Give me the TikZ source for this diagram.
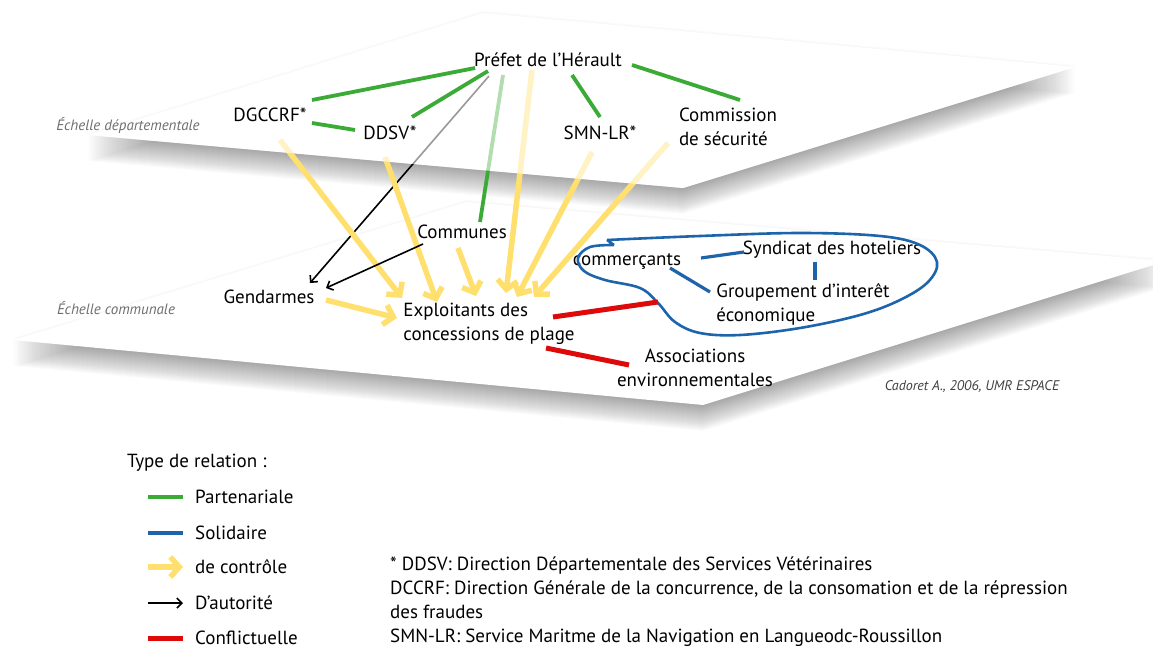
\documentclass[tikz,border=0pt]{standalone}
\usepackage{fontspec}
\setmainfont{PT Sans}
\usepackage{tikz}
\usetikzlibrary{positioning, calc, arrows.meta}

\definecolor{vert}{RGB}{60,170,55}
\definecolor{bleu}{RGB}{30,100,170}
\definecolor{jaune}{RGB}{255,224,110}
\definecolor{rouge}{RGB}{222,10,10}
\definecolor{grisTxt}{RGB}{110,110,110}

\pgfdeclarelayer{planes}
\pgfdeclarelayer{cross}
\pgfdeclarelayer{veil}
\pgfsetlayers{planes,cross,veil,main}

\begin{document}
\begin{tikzpicture}[x=1pt, y=-1pt,
    font=\fontsize{19}{24}\selectfont,
    every node/.style={inner sep=2pt},
    partner/.style={draw=vert, line width=3.8pt},
    solidaire/.style={draw=bleu, line width=3.2pt},
    controle/.style={draw=jaune, line width=5.5pt, -{Straight Barb[length=9pt,width=20pt]}},
    autorite/.style={draw=black, line width=1.6pt, -{Straight Barb[length=5pt,width=10pt]}},
    conflit/.style={draw=rouge, line width=5pt},
    echelle/.style={text=grisTxt, font=\fontsize{15}{18}\selectfont\itshape}
  ]
  \useasboundingbox (0,0) rectangle (1153,648);

  % the two planes with their soft shadows
  \begin{pgfonlayer}{planes}
    \foreach \d in {-2,...,26} {
      \fill[black, opacity=0.014] (13,340+\d) -- (466,202+\d) -- (1166,261+\d) -- (703,405+\d) -- cycle;
    }
    \fill[white] (13,340) -- (466,202) -- (1166,261) -- (703,405) -- cycle;
    \foreach \d in {-2,...,26} {
      \fill[black, opacity=0.014] (88,135+\d) -- (483,13+\d) -- (1075,67+\d) -- (683,188+\d) -- cycle;
    }
    \fill[white] (88,135) -- (483,13) -- (1075,67) -- (683,188) -- cycle;
  \end{pgfonlayer}
  \begin{pgfonlayer}{veil}
    \fill[white, opacity=0.6] (88,135) -- (483,13) -- (1075,67) -- (683,188) -- cycle;
  \end{pgfonlayer}

  % departmental level
  \node (prefet) at (548,60) {Préfet de l'Hérault};
  \node (dgccrf) at (270,115) {DGCCRF*};
  \node (ddsv) at (390,133) {DDSV*};
  \node (smn) at (600,133) {SMN-LR*};
  \node[align=left] (commission) at (728,127) {Commission\\de sécurité};
  \node[echelle] (echdep) at (128,125) {Échelle départementale};

  % communal level
  \node (communes) at (462,232) {Communes};
  \node (gendarmes) at (269,297) {Gendarmes};
  \node[align=left] (exploit) at (489,324) {Exploitants des\\concessions de plage};
  \node (commerc) at (627,262) {commerçants};
  \node (syndicat) at (832,250) {Syndicat des hoteliers};
  \node[align=left] (groupement) at (803,304) {Groupement d'interêt\\économique};
  \node[align=center] (assoc) at (695,368) {Associations\\environnementales};
  \node[echelle] (echcom) at (116,308) {Échelle communale};
  \node[echelle, text=black!75, font=\fontsize{14}{17}\selectfont\itshape] (credit) at (972,387) {Cadoret A., 2006, UMR ESPACE};

  % links going from one level to the other
  \begin{pgfonlayer}{cross}
    \draw[partner] ($(prefet)+(-45,15)$) -- ($(communes)+(18,-10)$);
    \draw[autorite] ($(prefet)+(-59,16)$) -- ($(gendarmes)+(41,-14)$);
    \draw[controle] ($(dgccrf)+(10,25)$) -- ($(exploit)+(-87,-26)$);
    \draw[controle] ($(ddsv)+(-5,24)$) -- ($(exploit)+(-52,-22)$);
    \draw[controle] ($(prefet)+(-16,10)$) -- ($(exploit)+(17,-31)$);
    \draw[controle] ($(smn)+(-8,19)$) -- ($(exploit)+(28,-27)$);
    \draw[controle] ($(commission)+(-60,16)$) -- ($(exploit)+(45,-27)$);
  \end{pgfonlayer}

  % partnerships at the top
  \draw[partner] ($(prefet)+(-73,8)$) -- ($(dgccrf)+(42,-15)$);
  \draw[partner] ($(prefet)+(-60,11)$) -- ($(ddsv)+(22,-16)$);
  \draw[partner] ($(dgccrf)+(42,8)$) -- ($(ddsv)+(-35,-3)$);
  \draw[partner] ($(prefet)+(24,15)$) -- ($(smn)+(0,-16)$);
  \draw[partner] ($(prefet)+(84,5)$) -- ($(commission)+(12,-27)$);

  % links inside the commune
  \draw[controle] ($(communes)+(-4,16)$) -- ($(exploit)+(-13,-28)$);
  \draw[controle] ($(gendarmes)+(57,3)$) -- ($(exploit)+(-92,-6)$);
  \draw[autorite] ($(communes)+(-39,12)$) -- ($(gendarmes)+(57,-9)$);
  \draw[solidaire] ($(commerc)+(74,-4)$) -- ($(syndicat)+(-88,2)$);
  \draw[solidaire] ($(commerc)+(43,6)$) -- ($(groupement)+(-93,-12)$);
  \draw[solidaire] ($(syndicat)+(-17,12)$) -- ($(groupement)+(12,-24)$);

  % the group of local businesses
  \draw[bleu, line width=2.6pt] (614,245) -- (607,240)
    plot[smooth, tension=0.6] coordinates {(607,240) (700,236) (800,233) (880,236) (920,245)
      (937,262) (928,282) (900,300) (860,315) (800,328) (740,335) (700,333) (675,322)
      (658,303) (640,288) (605,280) (584,271) (578,258) (590,247) (614,245)};
  \coordinate (blobhit) at (658,302);

  \draw[conflit] ($(exploit)+(64,-7)$) -- (blobhit);
  \draw[conflit] ($(exploit)+(57,24)$) -- ($(assoc)+(-66,-3)$);

  % legend
  \node[anchor=west] (lgtitle) at (125,463) {Type de relation :};
  \foreach \y/\sty/\nm/\txt in {497/partner/lgpart/Partenariale, 533/solidaire/lgsol/Solidaire,
      567/controle/lgctrl/de contrôle, 603/autorite/lgaut/D'autorité, 638/conflit/lgconf/Conflictuelle} {
    \node[anchor=west] (\nm) at (193,\y) {\txt};
    \draw[\sty] ([xshift=-45pt]\nm.west) -- ([xshift=-10pt]\nm.west);
  }
  \node[anchor=west, align=left] (sigles) at (388,602) {* DDSV: Direction Départementale des Services Vétérinaires\\
    DCCRF: Direction Générale de la concurrence, de la consomation et de la répression\\
    des fraudes\\
    SMN-LR: Service Maritme de la Navigation en Langueodc-Roussillon};
\end{tikzpicture}
\end{document}
